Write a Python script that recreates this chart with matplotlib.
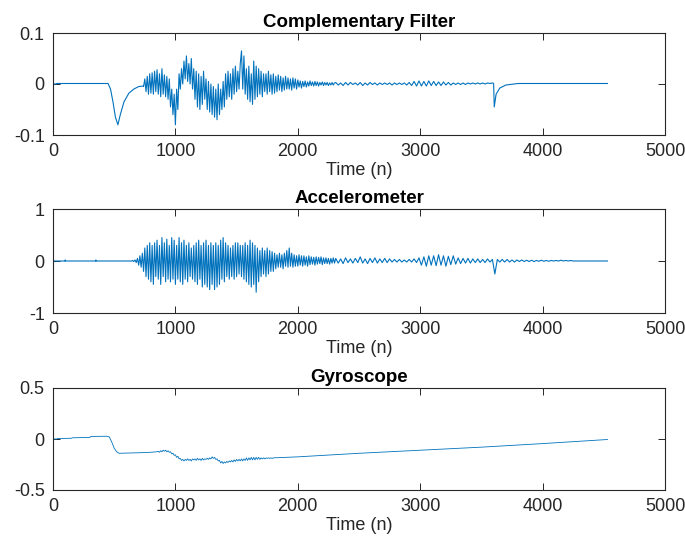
import numpy as np
import matplotlib
matplotlib.use("Agg")
import matplotlib.pyplot as plt

plt.rcParams['font.family'] = ['Liberation Sans', 'DejaVu Sans']
plt.rcParams['axes.unicode_minus'] = False

# ---------------- data ----------------
titles = ["Complementary Filter", "Accelerometer", "Gyroscope"]
xlabel = "Time (n)"
x_ticks = [0, 1000, 2000, 3000, 4000, 5000]
y_ticks = [[-0.1, 0, 0.1], [-1, 0, 1], [-0.5, 0, 0.5]]
y_ticklabels = [["-0.1", "0", "0.1"], ["-1", "0", "1"], ["-0.5", "0", "0.5"]]

# Complementary filter
cf_head_t = [0, 30, 31, 450, 470, 490, 510, 530, 550, 580, 620, 660, 700, 735]
cf_head_v = [0, 0, 0.001, 0.001, -0.01, -0.035, -0.065, -0.08, -0.06, -0.035, -0.018, -0.01, -0.005, -0.004]
cf_noiseA_start, cf_noiseA_step = 740, 10
cf_noiseA = [
    -0.005, 0.01, -0.015, 0.015, -0.02, 0.02, -0.018, 0.022, -0.02, 0.025,
    -0.015, 0.028, -0.02, 0.02, -0.025, 0.03, -0.02, 0.018, -0.025, 0.015,
    -0.03, 0.01, -0.045, -0.01, -0.06, -0.02, -0.08, -0.01, -0.05, 0.02,
    -0.01, 0.03, 0.0, 0.045, 0.01, 0.055, 0.005, 0.04, 0.0, 0.05,
    -0.01, 0.03, -0.03, 0.025, -0.045, 0.02, -0.05, 0.015, -0.04, 0.025,
    -0.03, 0.01, -0.05, 0.005, -0.055, 0.0, -0.06, -0.005, -0.065, -0.01,
    -0.07, 0.0, -0.06, -0.01, -0.05, 0.005, -0.045, 0.02, -0.03, 0.025,
    -0.025, 0.02, -0.03, 0.03, -0.02, 0.035, -0.015, 0.025, -0.01, 0.04,
    0.065, -0.01, 0.055, -0.02, 0.03, -0.03, 0.035, -0.035, 0.02, -0.04,
    0.045, -0.03, 0.035, -0.025, 0.03, -0.02, 0.025, -0.025, 0.02, -0.015,
    0.02, -0.02, 0.025, -0.015, 0.018, -0.02, 0.02, -0.018, 0.015, -0.015,
    0.018, -0.012, 0.015, -0.015, 0.012, -0.012, 0.015, -0.01, 0.012, -0.01,
    0.01, -0.012, 0.012, -0.008, 0.01, -0.01, 0.008, -0.006, 0.006, -0.008,
    0.005, -0.005, 0.006, -0.006, 0.004, -0.004, 0.006, -0.003, 0.004, -0.004,
    0.005, -0.003, 0.004, -0.004, 0.003, -0.002, 0.004, -0.003, 0.003, -0.002,
    0.003, -0.003, 0.002, -0.002, 0.003, -0.002, 0.002,
]
cf_noiseB_start, cf_noiseB_step = 2310, 20
cf_noiseB = [
    0.003, -0.002, 0.002, -0.003, 0.003, -0.002, 0.003, -0.001, 0.002, -0.002,
    0.003, -0.003, 0.002, -0.002, 0.003, -0.001, 0.002, -0.002, 0.002, -0.001,
    0.002, -0.001, 0.002, -0.002, 0.002, -0.001, 0.002, -0.001, 0.002, -0.002,
    0.003, -0.003, 0.005, -0.004, 0.006, -0.004, 0.005, -0.004, 0.006, -0.003,
    0.005, -0.003, 0.004, -0.003, 0.004, -0.002, 0.003, -0.002, 0.002, -0.001,
    0.002, -0.001, 0.002, -0.001, 0.002, 0.0, 0.002, 0.0, 0.002, 0.0,
    0.002, 0.0, 0.002, 0.001, 0.002,
]
cf_tail_t = [3595, 3600, 3605, 3620, 3650, 3700, 3800, 4530]
cf_tail_v = [0.002, 0.0, -0.045, -0.02, -0.008, -0.002, 0.001, 0.001]

# Accelerometer
acc_head_t = [0, 99, 100, 101, 349, 350, 351, 645]
acc_head_v = [0, 0, 0.02, 0, 0, 0.02, 0, 0]
acc_noiseA_start, acc_noiseA_step = 650, 10
acc_noiseA = [
    0.01, -0.01, 0.02, -0.03, 0.05, -0.08, 0.1, -0.12, 0.15, -0.2,
    0.25, -0.3, 0.3, -0.35, 0.35, -0.4, 0.3, -0.45, 0.35, -0.3,
    0.4, -0.35, 0.3, -0.45, 0.45, -0.3, 0.35, -0.4, 0.42, -0.35,
    0.3, -0.4, 0.45, -0.35, 0.4, -0.45, 0.3, -0.35, 0.45, -0.4,
    0.35, -0.45, 0.4, -0.35, 0.3, -0.4, 0.35, -0.3, 0.25, -0.35,
    0.3, -0.4, 0.35, -0.45, 0.4, -0.35, 0.3, -0.5, 0.35, -0.45,
    0.4, -0.5, 0.3, -0.55, 0.35, -0.45, 0.3, -0.55, 0.35, -0.5,
    0.3, -0.45, 0.4, -0.35, 0.45, -0.4, 0.35, -0.3, 0.3, -0.35,
    0.25, -0.3, 0.3, -0.35, 0.35, -0.3, 0.35, -0.25, 0.3, -0.3,
    0.3, -0.35, 0.35, -0.4, 0.3, -0.45, 0.4, -0.5, 0.35, -0.45,
    0.3, -0.6, 0.25, -0.4, 0.2, -0.3, 0.25, -0.25, 0.2, -0.3,
    0.25, -0.25, 0.2, -0.2, 0.18, -0.2, 0.15, -0.15, 0.12, -0.12,
    0.15, -0.12, 0.12, -0.15, 0.15, -0.1, 0.2, -0.12, 0.25, -0.1,
    0.15, -0.12, 0.12, -0.1, 0.1, -0.1, 0.12, -0.08, 0.1, -0.1,
    0.1, -0.08, 0.08, -0.1, 0.1, -0.07, 0.08, -0.06, 0.07, -0.08,
    0.08, -0.06, 0.07, -0.05, 0.08, -0.07, 0.06, -0.05, 0.06, -0.05,
    0.05, -0.06, 0.05, -0.04, 0.06, -0.04,
]
acc_noiseB_start, acc_noiseB_step = 2310, 20
acc_noiseB = [
    0.05, -0.04, 0.04, -0.05, 0.06, -0.03, 0.04, -0.04, 0.05, -0.03,
    0.08, -0.04, 0.04, -0.05, 0.05, -0.03, 0.06, -0.04, 0.04, -0.03,
    0.05, -0.03, 0.04, -0.02, 0.03, -0.02, 0.03, -0.02, 0.02, -0.02,
    0.03, -0.02, 0.04, -0.03, 0.06, -0.08, 0.08, -0.1, 0.1, -0.08,
    0.1, -0.09, 0.12, -0.08, 0.1, -0.1, 0.09, -0.07, 0.1, -0.06,
    0.06, -0.05, 0.05, -0.04, 0.05, -0.04, 0.04, -0.03, 0.04, -0.03,
    0.03, -0.03, 0.04, -0.02, 0.03, -0.25, 0.03, -0.02, 0.03, -0.02,
    0.03, -0.02, 0.02, -0.02, 0.02, -0.01, 0.02, -0.01, 0.015, -0.01,
    0.015, -0.01, 0.01, -0.005, 0.015, -0.005, 0.01, -0.005, 0.01, 0.0,
    0.01, 0.0, 0.015, 0.0, 0.01, 0.0, 0.01, 0.0,
]
acc_tail_t = [4260, 4530]
acc_tail_v = [0, 0]

# Gyroscope
gy_head_t = [0, 30, 40, 150, 160, 300, 310, 440, 460, 480, 500, 520, 540, 600, 700, 800, 850]
gy_head_v = [0, 0, 0.005, 0.007, 0.012, 0.015, 0.025, 0.027, 0.02, -0.03, -0.09, -0.125,
             -0.14, -0.138, -0.135, -0.13, -0.125]
gy_noise_start, gy_noise_step = 860, 10
gy_noise = [
    -0.12, -0.13, -0.115, -0.125, -0.11, -0.12, -0.11, -0.125, -0.115, -0.13,
    -0.125, -0.145, -0.14, -0.16, -0.155, -0.18, -0.17, -0.195, -0.19, -0.21,
    -0.2, -0.215, -0.2, -0.21, -0.195, -0.21, -0.2, -0.215, -0.195, -0.205,
    -0.195, -0.21, -0.19, -0.205, -0.195, -0.21, -0.19, -0.205, -0.195, -0.2,
    -0.19, -0.2, -0.185, -0.195, -0.175, -0.19, -0.18, -0.2, -0.195, -0.215,
    -0.21, -0.235, -0.22, -0.24, -0.225, -0.235, -0.22, -0.23, -0.215, -0.225,
    -0.21, -0.225, -0.205, -0.22, -0.2, -0.215, -0.2, -0.215, -0.195, -0.215,
    -0.195, -0.21, -0.185, -0.21, -0.185, -0.205, -0.18, -0.205, -0.18, -0.205,
    -0.18, -0.2, -0.18, -0.2, -0.185, -0.195, -0.185, -0.195, -0.185, -0.19,
    -0.185, -0.19, -0.185, -0.19, -0.185,
]
gy_tail_t = [1900, 2000, 2500, 3000, 3500, 4000, 4530]
gy_tail_v = [-0.18, -0.175, -0.14, -0.11, -0.08, -0.045, -0.005]


def assemble(head_t, head_v, segments, tail_t, tail_v):
    ts = [np.asarray(head_t, float)]
    vs = [np.asarray(head_v, float)]
    for start, step, vals in segments:
        ts.append(start + step * np.arange(len(vals)))
        vs.append(np.asarray(vals, float))
    ts.append(np.asarray(tail_t, float))
    vs.append(np.asarray(tail_v, float))
    return np.concatenate(ts), np.concatenate(vs)


series = [
    assemble(cf_head_t, cf_head_v,
             [(cf_noiseA_start, cf_noiseA_step, cf_noiseA),
              (cf_noiseB_start, cf_noiseB_step, cf_noiseB)],
             cf_tail_t, cf_tail_v),
    assemble(acc_head_t, acc_head_v,
             [(acc_noiseA_start, acc_noiseA_step, acc_noiseA),
              (acc_noiseB_start, acc_noiseB_step, acc_noiseB)],
             acc_tail_t, acc_tail_v),
    assemble(gy_head_t, gy_head_v,
             [(gy_noise_start, gy_noise_step, gy_noise)],
             gy_tail_t, gy_tail_v),
]
line_widths = [0.8, 0.8, 0.6]

# ---------------- figure ----------------
W, H = 685, 541
fig = plt.figure(figsize=(W / 100, H / 100), dpi=100)
boxes = [(33, 135), (209, 313), (388, 490)]
left_px, right_px = 53, 665
axcol = '#262626'
for i, (top, bot) in enumerate(boxes):
    ax = fig.add_axes([left_px / W, 1 - bot / H, (right_px - left_px) / W, (bot - top) / H])
    t, v = series[i]
    ax.plot(t, v, color='#0072BD', lw=line_widths[i])
    ax.set_xlim(0, 5000)
    ax.set_ylim(y_ticks[i][0], y_ticks[i][-1])
    ax.set_xticks(x_ticks)
    ax.set_xticklabels([str(x) for x in x_ticks])
    ax.set_yticks(y_ticks[i])
    ax.set_yticklabels(y_ticklabels[i])
    ax.tick_params(direction='in', top=True, right=True, length=5, width=0.7,
                   colors=axcol, labelsize=13, labelcolor='#262626', pad=6)
    for s in ax.spines.values():
        s.set_color(axcol)
        s.set_linewidth(0.8)
    ax.set_title(titles[i], fontsize=13.5, fontweight='bold', color='black', pad=4)
    ax.set_xlabel(xlabel, fontsize=13, color='#262626', labelpad=1)

fig.savefig("out.png", dpi=100)
